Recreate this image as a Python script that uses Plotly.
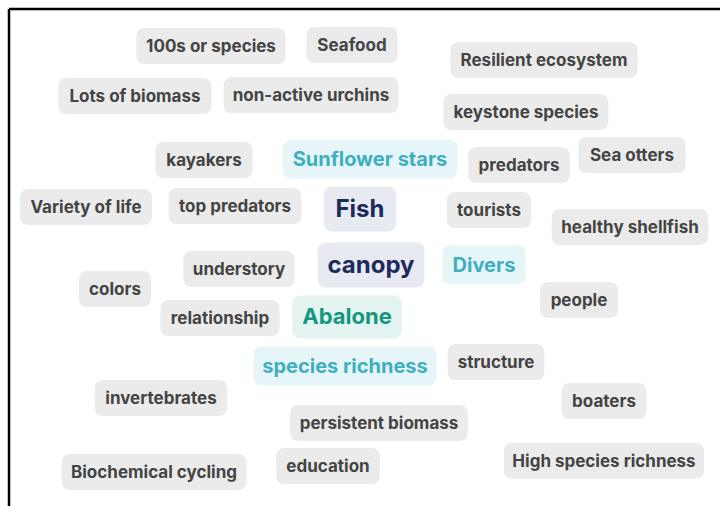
import plotly.graph_objects as go

words = ["100s or species", "Seafood", "Resilient ecosystem", "Lots of biomass",
         "non-active urchins", "keystone species", "kayakers", "Sunflower stars",
         "predators", "Sea otters", "Variety of life", "top predators", "Fish",
         "tourists", "healthy shellfish", "understory", "canopy", "Divers", "colors",
         "people", "relationship", "Abalone", "species richness", "structure",
         "invertebrates", "boaters", "persistent biomass", "education",
         "High species richness", "Biochemical cycling"]
x_pos = [211, 352, 544, 135, 311, 526, 204, 370, 519, 632, 86, 235, 360, 489, 630,
         239, 371, 484, 115, 579, 220, 347, 345, 496, 161, 604, 379, 328, 604, 154]
y_pos = [46, 45, 60, 96, 95, 112, 160, 159, 165, 155, 207, 206, 209, 210, 227,
         269, 265, 265, 289, 300, 318, 317, 366, 362, 398, 401, 423, 466, 461, 472]
group = ["plain", "plain", "plain", "plain", "plain", "plain", "plain", "teal",
         "plain", "plain", "plain", "plain", "navy", "plain", "plain", "plain", "navy",
         "teal", "plain", "plain", "plain", "green", "teal", "plain", "plain", "plain",
         "plain", "plain", "plain", "plain"]

styles = {
    "plain": dict(size=17, color="#444444", bg="#ebebeb", h=36),
    "teal": dict(size=20, color="#3eafbf", bg="#e6f6f8", h=39),
    "green": dict(size=22, color="#14977f", bg="#e3f3f0", h=43),
    "navy": dict(size=24, color="#1d2a5c", bg="#e8eaf1", h=45),
}

EM = {}
for ch in "abdeghnopqu":
    EM[ch] = 0.61
EM.update({"c": 0.56, "f": 0.37, "i": 0.27, "j": 0.27, "k": 0.57, "l": 0.27,
           "m": 0.9, "r": 0.39, "s": 0.54, "t": 0.37, "v": 0.57, "w": 0.82,
           "x": 0.57, "y": 0.57, "z": 0.54, " ": 0.26, "-": 0.42, "1": 0.48,
           "0": 0.64})


def text_width(s, size):
    w = 0
    for ch in s:
        if ch in EM:
            w += EM[ch]
        elif ch.isupper():
            w += 0.7
        else:
            w += 0.61
    return w * size * 0.99


def rounded_rect(cx, cy, w, h, r=9):
    x0, x1 = cx - w / 2, cx + w / 2
    y0, y1 = cy - h / 2, cy + h / 2
    return (f"M {x0 + r},{y0} L {x1 - r},{y0} Q {x1},{y0} {x1},{y0 + r} "
            f"L {x1},{y1 - r} Q {x1},{y1} {x1 - r},{y1} L {x0 + r},{y1} "
            f"Q {x0},{y1} {x0},{y1 - r} L {x0},{y0 + r} Q {x0},{y0} {x0 + r},{y0} Z")


shapes = []
for wd, cx, cy, g in zip(words, x_pos, y_pos, group):
    st = styles[g]
    bw = text_width(wd, st["size"]) + 22
    shapes.append(dict(type="path", xref="x", yref="y",
                       path=rounded_rect(cx, cy, bw, st["h"]),
                       fillcolor=st["bg"], line=dict(width=0), layer="below"))

# frame lines (top and left)
shapes.append(dict(type="line", xref="paper", yref="paper", x0=9 / 720, x1=9 / 720,
                   y0=0, y1=1 - 9 / 506, line=dict(color="black", width=2.5)))
shapes.append(dict(type="line", xref="paper", yref="paper", x0=9 / 720, x1=1,
                   y0=1 - 9 / 506, y1=1 - 9 / 506, line=dict(color="black", width=2.5)))

fig = go.Figure()
fig.add_trace(go.Scatter(
    x=x_pos, y=[v + 1.5 for v in y_pos], mode="text", text=words,
    textposition="middle center",
    textfont=dict(family="Inter, Noto Sans, sans-serif",
                  size=[styles[g]["size"] for g in group],
                  color=[styles[g]["color"] for g in group],
                  weight=700),
    hoverinfo="text", showlegend=False,
))

fig.update_layout(
    width=720, height=506,
    margin=dict(l=0, r=0, t=0, b=0),
    paper_bgcolor="white", plot_bgcolor="white",
    xaxis=dict(range=[0, 720], visible=False, fixedrange=True),
    yaxis=dict(range=[506, 0], visible=False, fixedrange=True),
    shapes=shapes,
)

fig.write_html("out.html", config={"displayModeBar": False},
               post_script="document.body.style.margin='0';")
